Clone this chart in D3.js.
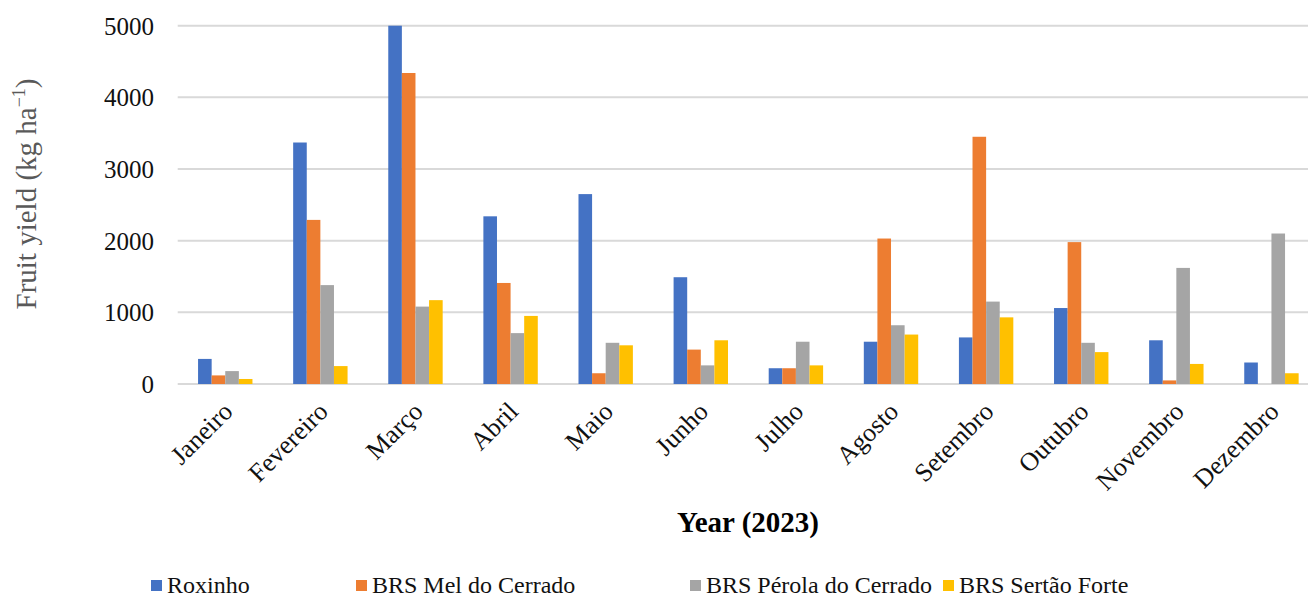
<!DOCTYPE html>
<html>
<head>
<meta charset="utf-8">
<script src="https://cdn.jsdelivr.net/npm/d3@7"></script>
<style>
  html, body { margin: 0; padding: 0; background: #fff; }
  svg { display: block; }
  svg text { font-family: "Liberation Serif", "Times New Roman", serif; }
</style>
</head>
<body>
<svg id="chart" width="1308" height="597"></svg>
<script>
const months = ["Janeiro","Fevereiro","Março","Abril","Maio","Junho","Julho","Agosto","Setembro","Outubro","Novembro","Dezembro"];
const seriesNames = ["Roxinho","BRS Mel do Cerrado","BRS Pérola do Cerrado","BRS Sertão Forte"];
const roxinho   = [350, 3370, 5000, 2340, 2650, 1490, 220, 590, 650, 1060, 610, 300];
const melCerrado = [120, 2290, 4340, 1410, 150, 480, 220, 2030, 3450, 1980, 50, 0];
const perolaCerrado = [180, 1380, 1080, 710, 575, 260, 590, 820, 1150, 575, 1620, 2100];
const sertaoForte = [70, 250, 1170, 950, 540, 610, 260, 690, 930, 445, 280, 150];
const yTicks = [0, 1000, 2000, 3000, 4000, 5000];
const colors = ["#4472C4", "#ED7D31", "#A5A5A5", "#FFC000"];

const seriesValues = [roxinho, melCerrado, perolaCerrado, sertaoForte];
const svg = d3.select("#chart");
const font = "Liberation Serif";

const plotLeft = 177.7, plotRight = 1319, plotTop = 25.7, plotBottom = 384;

const x0 = d3.scaleBand().domain(months).range([plotLeft, plotRight])
  .paddingInner(0.428).paddingOuter(0.214);
const x1 = d3.scaleBand().domain(seriesNames).range([0, x0.bandwidth()]).padding(0);
const y = d3.scaleLinear().domain([0, 5000]).range([plotBottom, plotTop]);
const color = d3.scaleOrdinal().domain(seriesNames).range(colors);

// gridlines
svg.append("g").selectAll("line").data(yTicks).join("line")
  .attr("x1", plotLeft).attr("x2", plotRight)
  .attr("y1", d => y(d)).attr("y2", d => y(d))
  .attr("stroke", "#D9D9D9").attr("stroke-width", 2);

// bars
const groups = svg.append("g").selectAll("g").data(months).join("g")
  .attr("transform", d => `translate(${x0(d)},0)`);
groups.selectAll("rect")
  .data((m, i) => seriesNames.map((s, j) => ({ s, v: seriesValues[j][i] })))
  .join("rect")
  .attr("x", d => x1(d.s))
  .attr("width", x1.bandwidth())
  .attr("y", d => y(d.v))
  .attr("height", d => plotBottom - y(d.v))
  .attr("fill", d => color(d.s));

// y axis labels
const yAxis = d3.axisLeft(y).tickValues(yTicks).tickSize(0).tickPadding(0).tickFormat(d3.format("d"));
const gy = svg.append("g").attr("transform", `translate(154,0)`).call(yAxis);
gy.attr("font-family", font);
gy.select(".domain").remove();
gy.selectAll("text").style("font-family", font).attr("font-size", 25).attr("fill", "#111")
  .attr("dy", "0.34em");

// x axis labels
const xAxis = d3.axisBottom(x0).tickSize(0).tickPadding(0);
const gx = svg.append("g").attr("transform", `translate(0,${plotBottom})`).call(xAxis);
gx.attr("font-family", font);
gx.select(".domain").remove();
gx.selectAll(".tick text")
  .style("font-family", font).attr("font-size", 26).attr("fill", "#111")
  .attr("text-anchor", "end")
  .attr("dy", 0).attr("y", 0)
  .attr("transform", "translate(9,29) rotate(-45)");

// y axis title
const yt = svg.append("text")
  .attr("transform", "translate(36,194) rotate(-90)")
  .attr("text-anchor", "middle")
  .style("font-family", font).attr("font-size", 29).attr("fill", "#595959");
yt.append("tspan").text("Fruit yield (kg ha");
yt.append("tspan").attr("font-size", 18).attr("dy", -11).text("−1");
yt.append("tspan").attr("dy", 11).text(")");

// x axis title
svg.append("text")
  .attr("x", 748).attr("y", 532)
  .attr("text-anchor", "middle")
  .style("font-family", font).attr("font-size", 29).attr("font-weight", "bold").attr("fill", "#000")
  .text("Year (2023)");

// legend
const legendX = [151, 356, 690, 943];
const lg = svg.append("g").selectAll("g").data(seriesNames).join("g")
  .attr("transform", (d, i) => `translate(${legendX[i]},0)`);
lg.append("rect").attr("x", 0).attr("y", 580).attr("width", 11).attr("height", 11)
  .attr("fill", d => color(d));
lg.append("text").attr("x", 16).attr("y", 593)
  .style("font-family", font).attr("font-size", 24).attr("fill", "#111")
  .text(d => d);
</script>
</body>
</html>
